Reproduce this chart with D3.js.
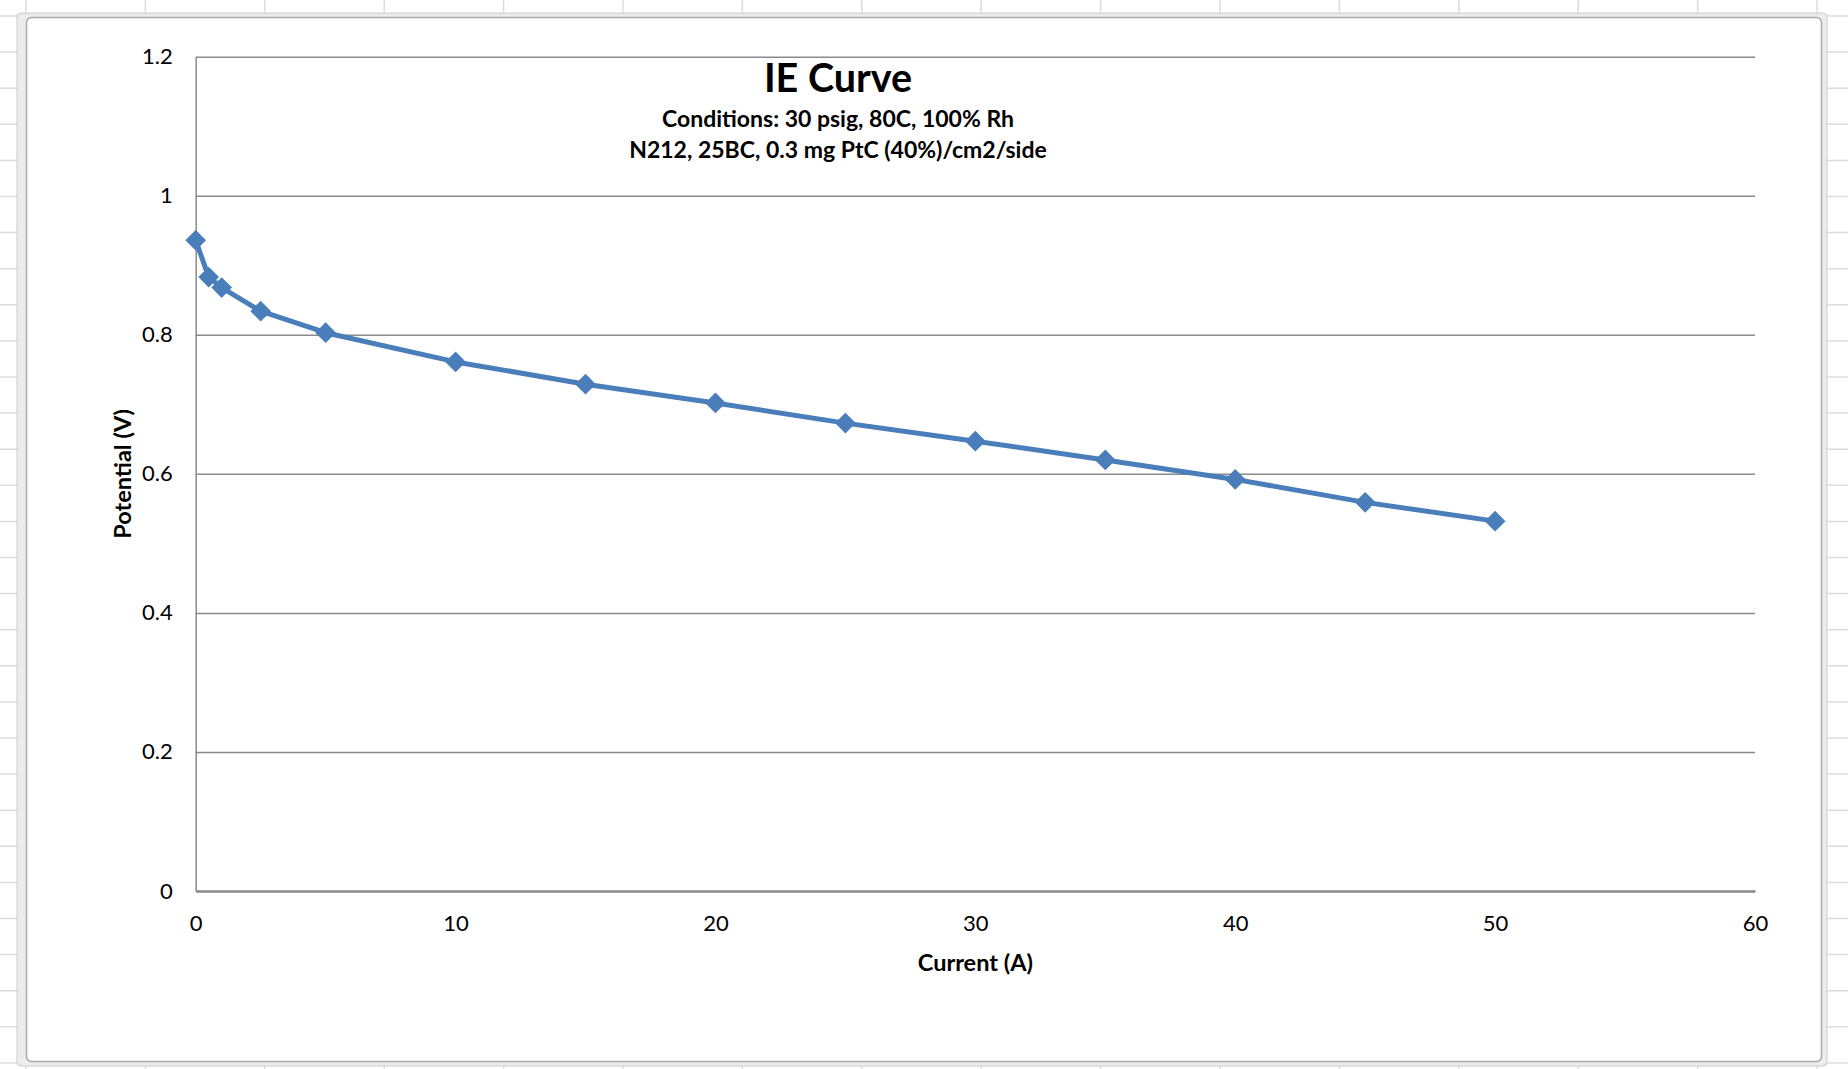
<!DOCTYPE html>
<html>
<head>
<meta charset="utf-8">
<script src="https://cdn.jsdelivr.net/npm/d3@7/dist/d3.min.js"></script>
<style>
  html, body { margin: 0; padding: 0; background: #ffffff; }
  svg { display: block; }
  text { font-family: Lato, "Noto Sans", sans-serif; fill: #000; }
</style>
</head>
<body>
<svg id="chart" width="1848" height="1069"></svg>
<script>
// ---- data ----
const currentA = [0, 0.5, 1, 2.5, 5, 10, 15, 20, 25, 30, 35, 40, 45, 50];
const potentialV = [0.936, 0.883, 0.868, 0.834, 0.803, 0.761, 0.729, 0.702, 0.673, 0.647, 0.620, 0.592, 0.559, 0.532];
const xTicks = [0, 10, 20, 30, 40, 50, 60];
const yTicks = [0, 0.2, 0.4, 0.6, 0.8, 1, 1.2];
const titleText = "IE Curve";
const subtitleLines = ["Conditions: 30 psig, 80C, 100% Rh", "N212, 25BC, 0.3 mg PtC (40%)/cm2/side"];
const xTitle = "Current (A)";
const yTitle = "Potential (V)";

const W = 1848, H = 1069;
const svg = d3.select("#chart");

// ---- spreadsheet background grid ----
const bg = svg.append("g");
const colW = 119.4, rowH = 36.1;
for (let x = 26; x < W; x += colW) {
  bg.append("line").attr("x1", x).attr("x2", x).attr("y1", 0).attr("y2", H)
    .attr("stroke", "#dcdcdc").attr("stroke-width", 1.5);
}
for (let y = 16; y < H; y += rowH) {
  bg.append("line").attr("x1", 0).attr("x2", W).attr("y1", y).attr("y2", y)
    .attr("stroke", "#dcdcdc").attr("stroke-width", 1.5);
}

// ---- chart frame ----
svg.append("rect").attr("x", 17).attr("y", 13).attr("width", 1810).attr("height", 1053)
  .attr("fill", "#ececec").attr("stroke", "#cccccc").attr("stroke-width", 1).attr("rx", 4);
svg.append("rect").attr("x", 26.5).attr("y", 17.5).attr("width", 1795).attr("height", 1044)
  .attr("fill", "#ffffff").attr("stroke", "#a8a8a8").attr("stroke-width", 1.5).attr("rx", 5);

// ---- scales ----
const plot = { left: 195.7, right: 1755, top: 56.7, bottom: 891 };
const x = d3.scaleLinear().domain([0, 60]).range([plot.left, plot.right]);
const y = d3.scaleLinear().domain([0, 1.2]).range([plot.bottom, plot.top]);

// gridlines
const grid = svg.append("g")
  .attr("transform", `translate(${plot.left},0)`)
  .call(d3.axisLeft(y).tickValues(yTicks.filter(v => v > 0)).tickSize(-(plot.right - plot.left)).tickFormat(""));
grid.select(".domain").remove();
grid.selectAll(".tick line").attr("stroke", "#8a8a8a").attr("stroke-width", 1.5);

// y axis
const yAxis = svg.append("g")
  .attr("transform", `translate(${plot.left},0)`)
  .call(d3.axisLeft(y).tickValues(yTicks).tickSize(0).tickPadding(23).tickFormat(d3.format("~g")));
yAxis.select(".domain").attr("stroke", "#8a8a8a").attr("stroke-width", 1.5);
yAxis.selectAll("text").style("font-family", "Lato, 'Noto Sans', sans-serif").style("font-size", "22px").attr("fill", "#000");

// x axis
const xAxis = svg.append("g")
  .attr("transform", `translate(0,${plot.bottom})`)
  .call(d3.axisBottom(x).tickValues(xTicks).tickSize(0).tickPadding(24).tickFormat(d3.format("d")));
xAxis.select(".domain").attr("stroke", "#8a8a8a").attr("stroke-width", 2.5);
xAxis.selectAll("text").style("font-family", "Lato, 'Noto Sans', sans-serif").style("font-size", "22px").attr("fill", "#000");

// ---- titles ----
const tcx = 838;
svg.append("text").attr("x", tcx).attr("y", 92).attr("text-anchor", "middle")
  .style("font-size", "39.5px").style("font-weight", "bold").text(titleText);
svg.append("text").attr("x", tcx).attr("y", 126.5).attr("text-anchor", "middle")
  .style("font-size", "23px").style("font-weight", "bold").text(subtitleLines[0]);
svg.append("text").attr("x", tcx).attr("y", 157.5).attr("text-anchor", "middle")
  .style("font-size", "23px").style("font-weight", "bold").text(subtitleLines[1]);

svg.append("text").attr("x", (plot.left + plot.right) / 2).attr("y", 971).attr("text-anchor", "middle")
  .style("font-size", "23.5px").style("font-weight", "bold").text(xTitle);
svg.append("text").attr("transform", `translate(131,${(plot.top + plot.bottom) / 2}) rotate(-90)`)
  .attr("text-anchor", "middle")
  .style("font-size", "23.5px").style("font-weight", "bold").text(yTitle);

// ---- series ----
const pts = currentA.map((a, i) => ({ a, v: potentialV[i] }));
const color = "#4A7EBB";
svg.append("path").datum(pts)
  .attr("fill", "none").attr("stroke", color).attr("stroke-width", 5).attr("stroke-linejoin", "round")
  .attr("d", d3.line().x(d => x(d.a)).y(d => y(d.v)));

const sym = d3.symbol().type(d3.symbolSquare).size(215);
svg.append("g").selectAll("path").data(pts).join("path")
  .attr("d", sym)
  .attr("transform", d => `translate(${x(d.a)},${y(d.v)}) rotate(45)`)
  .attr("fill", color);
</script>
</body>
</html>
